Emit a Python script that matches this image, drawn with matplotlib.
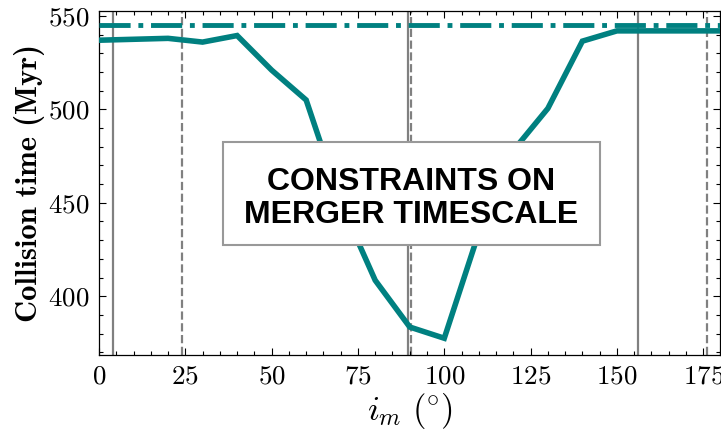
import matplotlib

matplotlib.use("Agg")

import matplotlib.pyplot as plt
import numpy as np
from matplotlib.patches import Rectangle


# Collision time against mutual inclination
INCLINATION = [0, 10, 20, 30, 40, 50, 60, 70, 80, 90, 100, 110, 120, 130, 140, 150, 160, 170, 180]
COLLISION_TIME = [537, 537.5, 538, 536, 539.5, 521, 505, 450, 408.5, 383.5, 377.5,
                  434, 478, 500.5, 536.5, 542, 542, 542, 542]
REFERENCE_TIME = 545.0

# Constraint lines on the inclination
SOLID_LIMITS = [4, 89.5, 156]
DASHED_LIMITS = [24, 90.5, 176]

TEAL = "#008080"
GREY = "#808080"

plt.rcParams["mathtext.fontset"] = "cm"
plt.rcParams["font.family"] = "serif"
plt.rcParams["font.serif"] = ["cmr10"]
plt.rcParams["axes.formatter.use_mathtext"] = True


def main():
    fig = plt.figure(figsize=(7.21, 4.33), dpi=100)
    ax = fig.add_axes([0.1373, 0.180, 0.8620, 0.7953])

    for x in SOLID_LIMITS:
        ax.axvline(x, color=GREY, linewidth=1.6, linestyle="-", zorder=1)
    for x in DASHED_LIMITS:
        ax.axvline(x, color=GREY, linewidth=1.6, linestyle="--", zorder=1)

    ax.plot(INCLINATION, COLLISION_TIME, color=TEAL, linewidth=4.0,
            solid_joinstyle="miter", zorder=3)
    ax.axhline(REFERENCE_TIME, color=TEAL, linewidth=3.5, linestyle="-.", zorder=3)

    ax.set_xlim(0, 180)
    ax.set_ylim(368.5, 552.8)
    ax.set_xticks(np.arange(0, 176, 25))
    ax.set_xticks(np.arange(0, 181, 5), minor=True)
    ax.set_yticks([400, 450, 500, 550])
    ax.set_yticks(np.arange(370, 553, 10), minor=True)

    ax.tick_params(which="both", direction="in", top=True, right=True,
                   labelsize=19.5, width=0.8)
    ax.tick_params(which="major", length=5, pad=7)
    ax.tick_params(which="minor", length=3)
    for spine in ax.spines.values():
        spine.set_linewidth(0.9)

    ax.set_xlabel(r"$i_m\ (\!^\circ\!)$", fontsize=25, labelpad=2)
    ax.set_ylabel("Collision time (Myr)", fontsize=22, family="cmb10", labelpad=2)

    # annotation panel over the middle of the curve
    ax.add_patch(Rectangle((0.1988, 0.3195), 0.6067, 0.2983, transform=ax.transAxes,
                           facecolor="white", edgecolor="#999999", linewidth=1.5,
                           zorder=5))
    ax.text(
        0.502, 0.455, "CONSTRAINTS ON\nMERGER TIMESCALE",
        transform=ax.transAxes, ha="center", va="center",
        family="Liberation Sans", fontweight="bold", fontsize=23,
        linespacing=1.15, zorder=6,
    )

    fig.savefig("out.png", dpi=100)
    plt.close(fig)


if __name__ == "__main__":
    main()
